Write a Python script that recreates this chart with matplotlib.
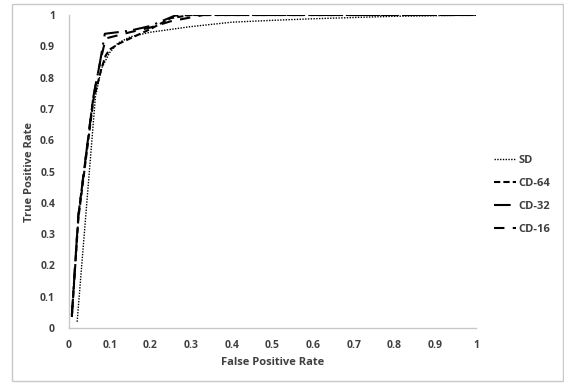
import matplotlib
matplotlib.use("Agg")
import matplotlib.pyplot as plt
from matplotlib.patches import Rectangle

plt.rcParams["font.family"] = ["Open Sans", "DejaVu Sans"]

sdX = [0.02, 0.04, 0.065, 0.08, 0.1, 0.12, 0.15, 0.2, 0.3, 0.4, 0.5, 0.6, 0.7, 0.8, 0.9, 1.0]
sdY = [0.02, 0.34, 0.74, 0.83, 0.88, 0.91, 0.93, 0.945, 0.963, 0.977, 0.983, 0.988, 0.992, 0.996, 0.998, 1.0]

cd64X = [0.007, 0.023, 0.06, 0.08, 0.09, 0.1, 0.125, 0.2, 0.25, 0.3, 0.4, 0.6, 0.8, 1.0]
cd64Y = [0.035, 0.35, 0.73, 0.83, 0.87, 0.89, 0.91, 0.955, 0.99, 1.0, 1.0, 1.0, 1.0, 1.0]

cd32X = [0.007, 0.023, 0.06, 0.075, 0.088, 0.15, 0.2, 0.26, 0.3, 0.4, 0.6, 0.8, 1.0]
cd32Y = [0.04, 0.36, 0.74, 0.84, 0.94, 0.95, 0.965, 0.998, 1.0, 1.0, 1.0, 1.0, 1.0]

cd16X = [0.007, 0.023, 0.06, 0.075, 0.09, 0.15, 0.2, 0.25, 0.33, 0.4, 0.6, 0.8, 1.0]
cd16Y = [0.04, 0.36, 0.74, 0.84, 0.925, 0.945, 0.96, 0.98, 1.0, 1.0, 1.0, 1.0, 1.0]

ticks = [0, 0.1, 0.2, 0.3, 0.4, 0.5, 0.6, 0.7, 0.8, 0.9, 1]
tickLabels = ["0", "0.1", "0.2", "0.3", "0.4", "0.5", "0.6", "0.7", "0.8", "0.9", "1"]

fig = plt.figure(figsize=(5.64, 3.84), dpi=100)
ax = fig.add_axes([69 / 564, 56 / 384, 407 / 564, 313 / 384])

ax.plot(sdX, sdY, color="black", linewidth=1.0, linestyle=(0, (1, 1)), label="SD")
ax.plot(cd64X, cd64Y, color="black", linewidth=1.5, linestyle=(0, (3, 1.5)), label="CD-64")
ax.plot(cd32X, cd32Y, color="black", linewidth=1.5, linestyle=(0, (8, 3, 1, 3)), label="CD-32")
ax.plot(cd16X, cd16Y, color="black", linewidth=1.5, linestyle=(0, (5, 4)), label="CD-16")

ax.set_xlim(0, 1)
ax.set_ylim(0, 1)
ax.set_xticks(ticks, labels=tickLabels)
ax.set_yticks(ticks, labels=tickLabels)
ax.tick_params(length=0, labelsize=7.5, pad=10, colors="#404040")
ax.tick_params(axis="x", pad=9)
for lbl in ax.get_xticklabels() + ax.get_yticklabels():
  lbl.set_fontweight("bold")

for side in ("top", "right"):
  ax.spines[side].set_visible(False)
for side in ("left", "bottom"):
  ax.spines[side].set_color("#c8c8c8")
  ax.spines[side].set_linewidth(1.0)

ax.set_xlabel("False Positive Rate", fontsize=8, fontweight="bold", color="#404040", labelpad=4)
ax.set_ylabel("True Positive Rate", fontsize=8, fontweight="bold", color="#404040", labelpad=4)

leg = fig.legend(
  loc="center left",
  bbox_to_anchor=(494 / 564, 1 - 195 / 384),
  frameon=False,
  fontsize=8,
  borderpad=0,
  borderaxespad=0,
  handlelength=2.0,
  handletextpad=0.2,
  labelspacing=1.1,
)
for t in leg.get_texts():
  t.set_fontweight("bold")
  t.set_color("#404040")

fig.patches.append(
  Rectangle(
    (12 / 564, 3 / 384),
    551 / 564,
    377 / 384,
    transform=fig.transFigure,
    fill=False,
    edgecolor="#c8c8c8",
    linewidth=1.0,
  )
)

fig.savefig("out.png", dpi=100)
